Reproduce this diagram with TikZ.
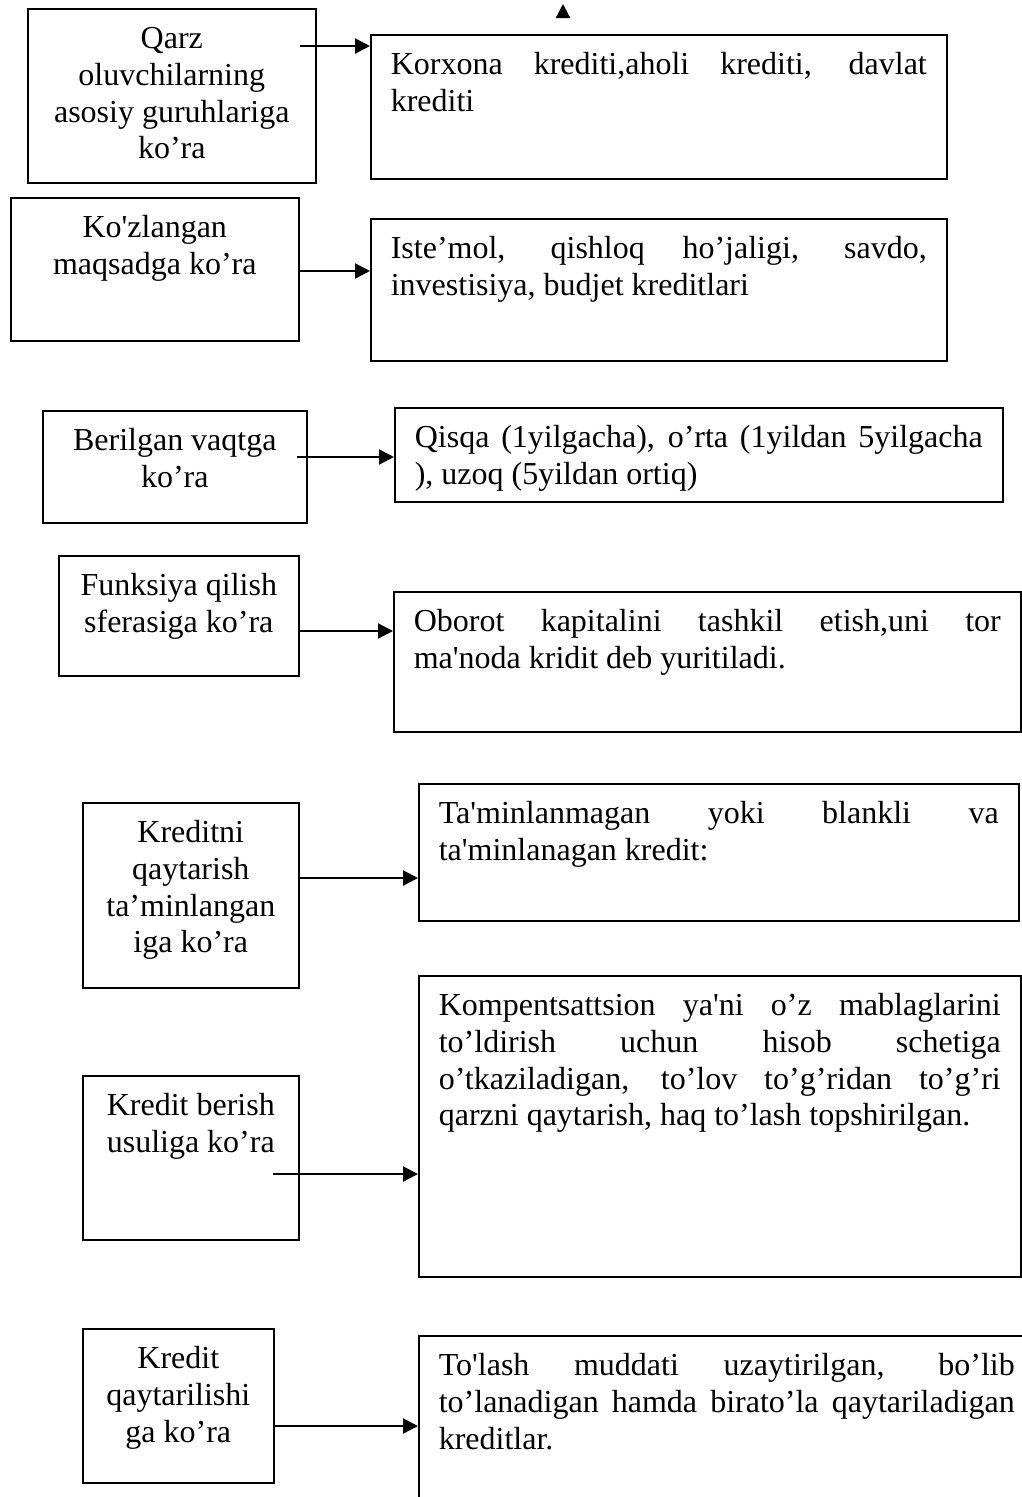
\documentclass[tikz,border=0pt]{standalone}
\usepackage{fontspec}
\setmainfont{Liberation Serif}
\usepackage{tikz}
\usetikzlibrary{arrows.meta, positioning}
\newcommand{\ltext}[3]{\parbox[c][\dimexpr#2pt-28pt][t]{\dimexpr#1pt-16pt}{\centering\strut#3}}
\newcommand{\rtext}[3]{\parbox[c][\dimexpr#2pt-28pt][t]{\dimexpr#1pt-40pt}{\strut#3}}
\newcommand{\sq}{\textquotesingle}
\hyphenpenalty=10000
\tolerance=10000
\hbadness=10000

\begin{document}
\begin{tikzpicture}[
  x=1pt, y=-1pt,
  font=\fontsize{32pt}{36.8pt}\selectfont,
  lbox/.style={draw, line width=1.6pt, rectangle, anchor=north west, inner xsep=8pt, inner ysep=14pt},
  rbox/.style={draw, line width=1.6pt, rectangle, anchor=north west, inner xsep=20pt, inner ysep=14pt},
  arr/.style={-{Triangle[length=15pt, width=15pt]}, line width=2.2pt}
]
  \clip (0,0) rectangle (1022,1497);

  % left column
  \node[lbox] (qarz)    at (27,8)     {\ltext{288}{174}{Qarz\\ oluvchilarning\\ asosiy guruhlariga\\ ko’ra}};
  \node[lbox] (maqsad)  at (10,197)   {\ltext{288}{143}{Ko\sq zlangan\\ maqsadga ko’ra}};
  \node[lbox] (vaqt)    at (42,410)   {\ltext{264}{112}{Berilgan vaqtga\\ ko’ra}};
  \node[lbox] (sfera)   at (58,555)   {\ltext{240}{120}{Funksiya qilish\\ sferasiga ko’ra}};
  \node[lbox] (taminot) at (82,802)   {\ltext{216}{185}{Kreditni\\ qaytarish\\ ta’minlangan\\ iga ko’ra}};
  \node[lbox] (usul)    at (82,1075)  {\ltext{216}{164}{Kredit berish\\ usuliga ko’ra}};
  \node[lbox] (qaytish) at (82,1328)  {\ltext{191}{154}{Kredit\\ qaytarilishi\\ ga ko’ra}};

  % right column
  \node[rbox] (korxona) at (370,34)   {\rtext{576}{144}{Korxona krediti,aholi krediti, davlat\linebreak krediti}};
  \node[rbox] (istemol) at (370,218)  {\rtext{576}{142}{Iste’mol, qishloq ho’jaligi, savdo,\linebreak investisiya, budjet kreditlari}};
  \node[rbox] (muddat)  at (394,407)  {\rtext{608}{94}{Qisqa (1yilgacha), o’rta (1yildan 5yilgacha\linebreak ), uzoq (5yildan ortiq)}};
  \node[rbox] (oborot)  at (393,591)  {\rtext{627}{140}{Oborot kapitalini tashkil etish,uni tor\linebreak ma\sq noda kridit deb yuritiladi.}};
  \node[rbox] (blank)   at (418,783)  {\rtext{600}{137}{Ta\sq minlanmagan yoki blankli va\linebreak ta\sq minlanagan kredit:}};
  \node[rbox] (kompens) at (418,975)  {\rtext{602}{301}{Kompentsattsion ya\sq ni o’z mablaglarini\linebreak to’ldirish uchun hisob schetiga\linebreak o’tkaziladigan, to’lov to’g’ridan to’g’ri\linebreak qarzni qaytarish, haq to’lash topshirilgan.}};
  \node[rbox] (tolash)  at (418,1335) {\rtext{616}{200}{To\sq lash muddati uzaytirilgan, bo’lib\linebreak to’lanadigan hamda birato’la qaytariladigan\linebreak kreditlar.}};

  % arrow starts
  \coordinate (s1) at (300,46);
  \coordinate (s2) at (298,271);
  \coordinate (s3) at (297,457);
  \coordinate (s4) at (300,631);
  \coordinate (s5) at (298,878);
  \coordinate (s6) at (273,1174);
  \coordinate (s7) at (273,1426);
  \draw[arr] (s1) -- (s1 -| korxona.west);
  \draw[arr] (s2) -- (s2 -| istemol.west);
  \draw[arr] (s3) -- (s3 -| muddat.west);
  \draw[arr] (s4) -- (s4 -| oborot.west);
  \draw[arr] (s5) -- (s5 -| blank.west);
  \draw[arr] (s6) -- (s6 -| kompens.west);
  \draw[arr] (s7) -- (s7 -| tolash.west);

  % stray tip at the top
  \coordinate (toptail) at (563,18);
  \coordinate (tophead) at (563,4);
  \draw[arr, -{Triangle[length=14pt, width=14pt]}] (toptail) -- (tophead);
\end{tikzpicture}
\end{document}
